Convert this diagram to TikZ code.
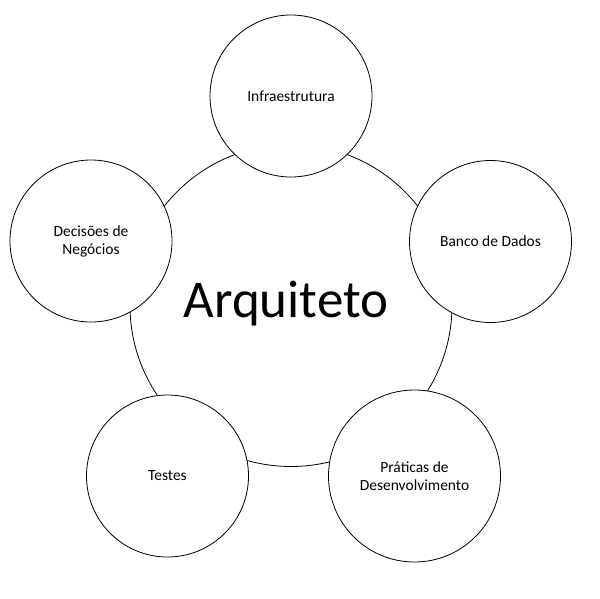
\documentclass[tikz,border=0pt]{standalone}
\usepackage{fontspec}
\setmainfont{Carlito}
\begin{document}
\begin{tikzpicture}[x=1pt,y=-1pt,
  bigc/.style={circle,draw=black,line width=0.8pt,fill=white,minimum size=322pt,inner sep=0pt},
  smallc/.style={circle,draw=black,line width=0.8pt,fill=white,minimum size=162pt,inner sep=0pt,align=center,font=\fontsize{15.5}{18}\selectfont},
  bigtext/.style={font=\fontsize{53}{62}\selectfont,inner sep=0pt,anchor=base}]
\path[use as bounding box,fill=white] (0,0) rectangle (600,598);
\node[bigc] (arq) at (291,305.5) {};
\node[bigtext] (arqt) at (286,317) {Arquiteto};
\node[smallc] (infra) at (291,96) {Infraestrutura};
\node[smallc] (banco) at (490.5,241.5) {Banco de Dados};
\node[smallc,minimum size=172pt] (prat) at (414.5,476) {Práticas de\\Desenvolvimento};
\node[smallc] (testes) at (167.5,476) {Testes};
\node[smallc] (decis) at (91,241) {Decisões de\\Negócios};
\end{tikzpicture}
\end{document}
